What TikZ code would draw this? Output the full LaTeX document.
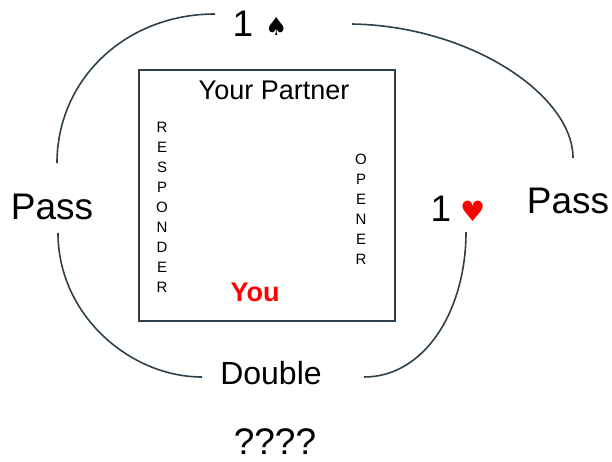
\documentclass[tikz,border=0pt]{standalone}
\usepackage{fontspec}
\setmainfont{Liberation Sans}
\newfontfamily\symfont{DejaVu Sans}
\definecolor{arccol}{HTML}{2E404C}
\definecolor{youred}{HTML}{FF0000}
\tikzset{
  arc/.style={draw=arccol, line width=1.6pt},
  big/.style={font=\fontsize{37}{40}\selectfont, inner sep=0pt},
  vert/.style={font=\fontsize{15}{20}\selectfont, align=center, inner sep=0pt},
}
\begin{document}
\begin{tikzpicture}[x=1pt,y=-1pt]
\useasboundingbox (0,0) rectangle (612,461);
\node[draw=arccol, line width=1.6pt, minimum width=256pt, minimum height=251pt, inner sep=0pt] (table) at (267,195.5) {};
\node[font=\fontsize{27}{30}\selectfont, inner sep=0pt] (partner) at (274,90) {Your Partner};
\node[vert] (resp) at (162,207) {R\\E\\S\\P\\O\\N\\D\\E\\R};
\node[vert] (open) at (361,209) {O\\P\\E\\N\\E\\R};
\node[font=\fontsize{27}{30}\selectfont\bfseries, text=youred, inner sep=0pt] (you) at (255,292) {You};

\node[big] (spade) at (260,24) {1\hspace{12pt}{\symfont\fontsize{25}{27}\selectfont\raisebox{1pt}{♠}}};
\node[big] (passL) at (52,207) {Pass};
\node[big] (passR) at (568,201) {Pass};
\node[big] (heart) at (458,209) {1\hspace{9pt}{\symfont\color{youred}\fontsize{28}{30}\selectfont♥}};
\node[font=\fontsize{32}{35}\selectfont, inner sep=0pt] (double) at (271,373) {Double};
\node[big] (quest) at (275,442) {????};

\coordinate (tl1) at (57,163);
\coordinate (tl2) at (215,14);
\coordinate (tr1) at (352,24);
\coordinate (tr2) at (573,158);
\coordinate (bl1) at (58,233);
\coordinate (bl2) at (202,377);
\coordinate (br1) at (364,377);
\coordinate (br2) at (466,232);

\draw[arc] (tl1) .. controls (57,80) and (125,14) .. (tl2);
\draw[arc] (tr1) .. controls (470,26) and (573,95) .. (tr2);
\draw[arc] (bl1) .. controls (58,315) and (130,377) .. (bl2);
\draw[arc] (br1) .. controls (425,377) and (466,310) .. (br2);
\end{tikzpicture}
\end{document}
